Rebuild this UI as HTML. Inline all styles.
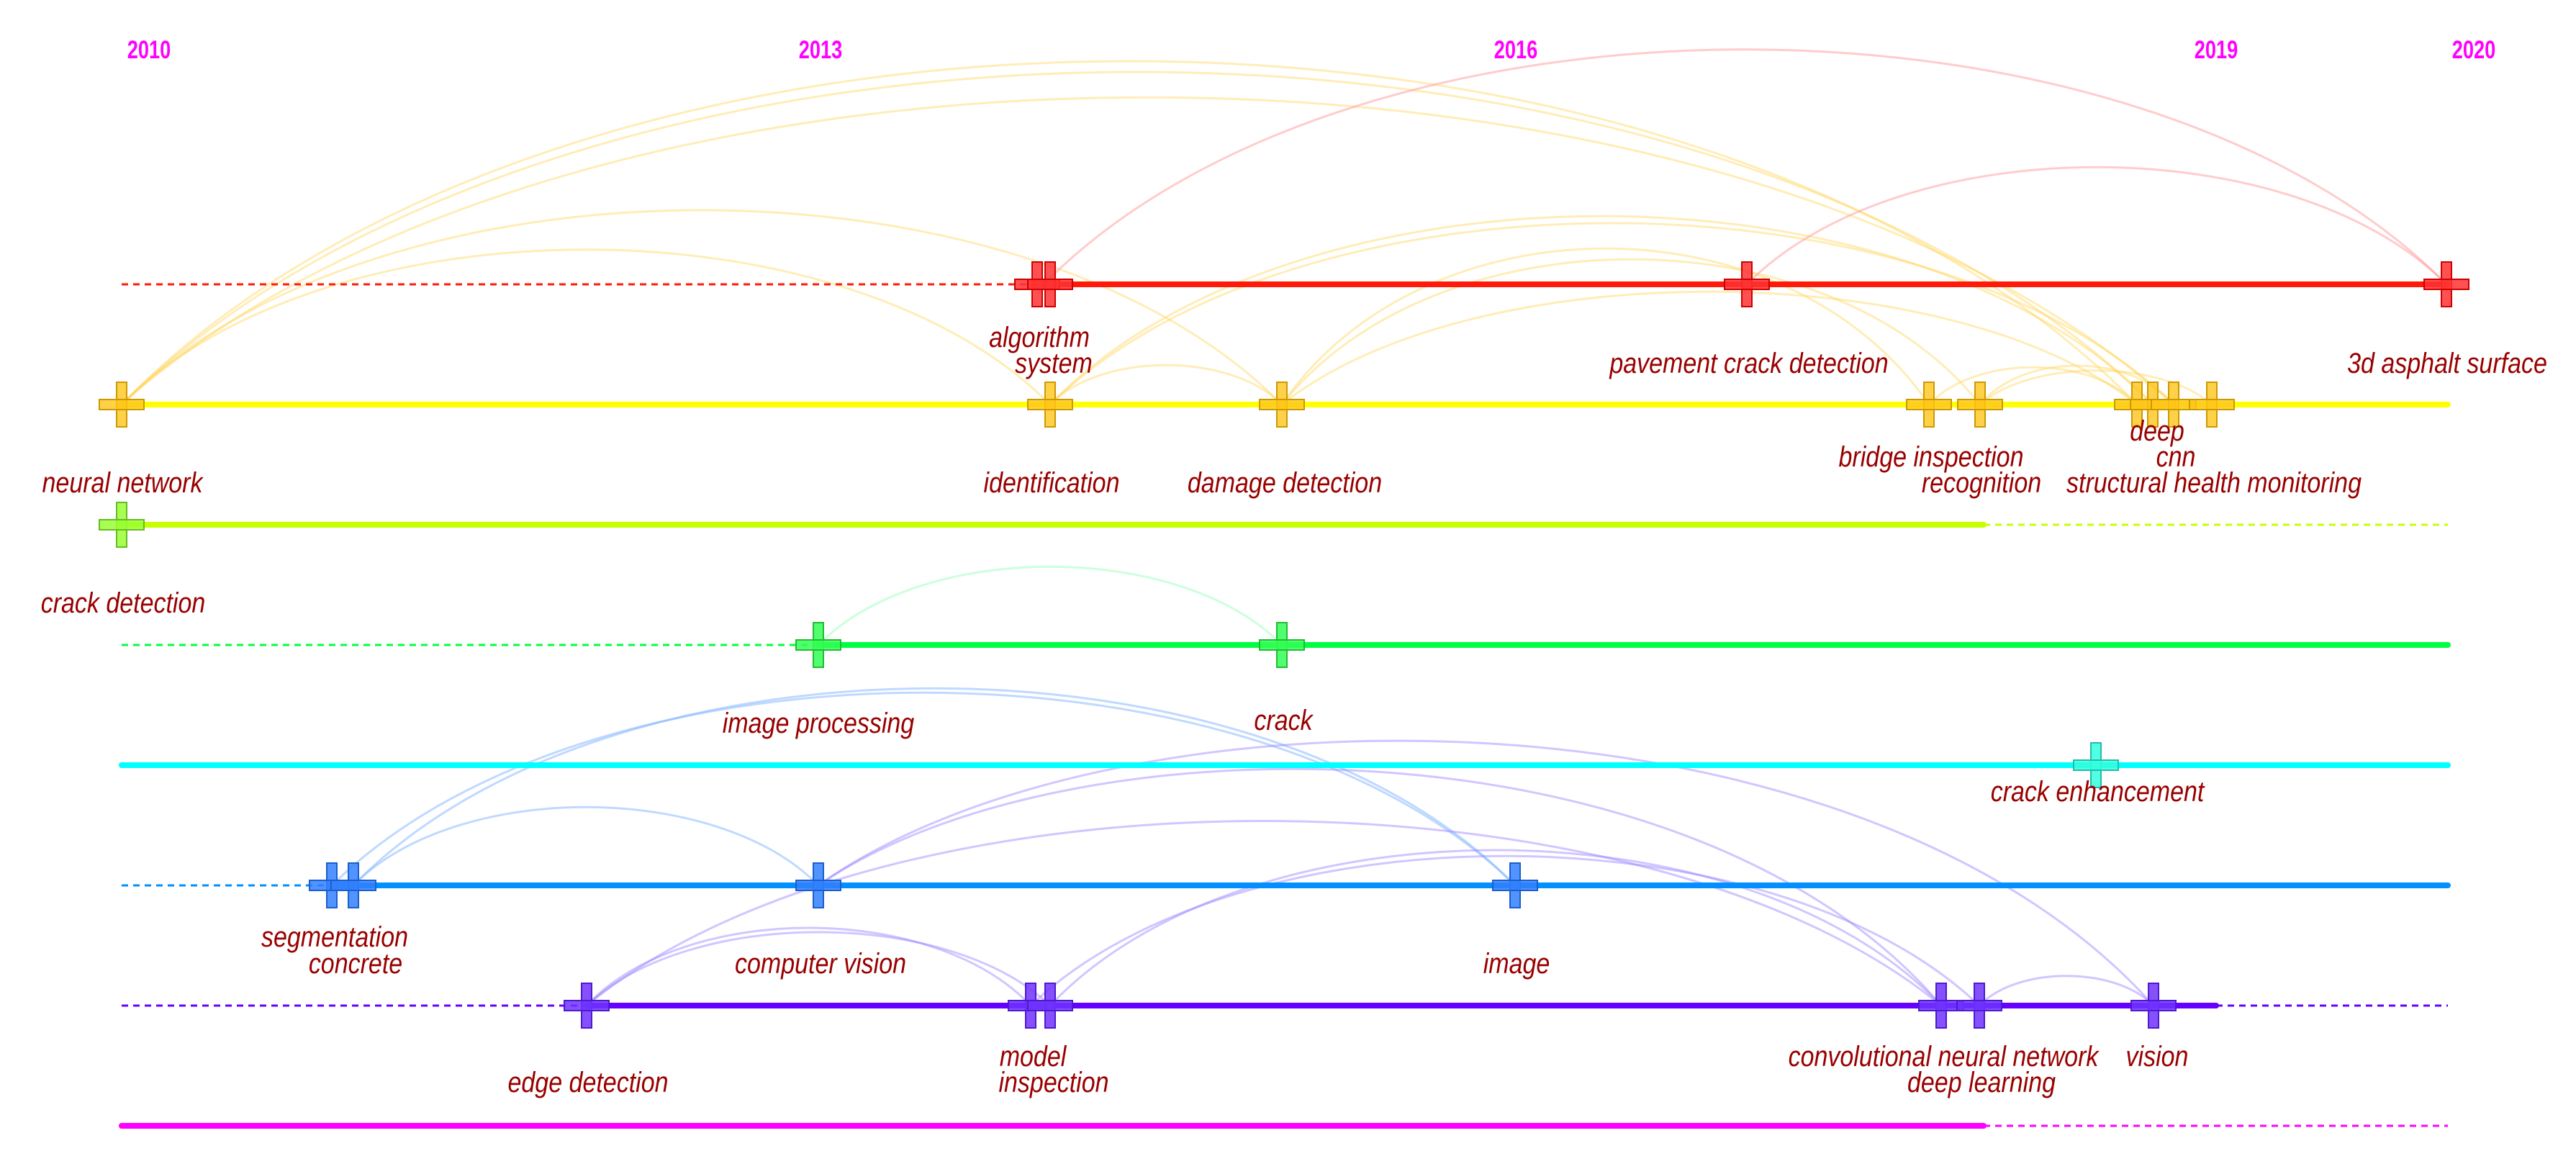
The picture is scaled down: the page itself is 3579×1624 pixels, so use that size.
<!DOCTYPE html>
<html><head><meta charset="utf-8"><style>
html,body{margin:0;padding:0;background:#fff}
svg{display:block}
.y{font:bold 32px "Liberation Sans",sans-serif;fill:#ff00ff;text-anchor:middle}
.l{font:italic 40px "Liberation Sans",sans-serif;fill:#990000;text-anchor:middle}
</style></head><body>
<svg width="3579" height="1624" viewBox="0 0 3579 1624" xmlns="http://www.w3.org/2000/svg">
<defs>
<g id="c"><rect x="-7" y="-31" width="14" height="62"/><rect x="-31" y="-7" width="62" height="14"/></g>
</defs>
<g transform="translate(207,81) scale(0.85,1.1)"><text class="y">2010</text></g>
<g transform="translate(1140,81) scale(0.85,1.1)"><text class="y">2013</text></g>
<g transform="translate(2106,81) scale(0.85,1.1)"><text class="y">2016</text></g>
<g transform="translate(3079,81) scale(0.85,1.1)"><text class="y">2019</text></g>
<g transform="translate(3437,81) scale(0.85,1.1)"><text class="y">2020</text></g>

<!-- arcs -->
<g fill="none" stroke-width="3">
<g stroke="#ffd24d" stroke-opacity="0.4">
<path d="M169 562 C785 -74 2353 -74 2969 562"/>
<path d="M169 562 C790 -54 2370 -54 2991 562"/>
<path d="M169 562 C796 -7 2393 -7 3020 562"/>
<path d="M169 562 C524 202 1426 202 1781 562"/>
<path d="M169 562 C453 275 1175 275 1459 562"/>
<path d="M1459 562 C1530 489 1710 489 1781 562"/>
<path d="M1459 562 C1796 213 2654 213 2991 562"/>
<path d="M1459 562 C1802 226 2677 226 3020 562"/>
<path d="M1781 562 C1979 273 2482 273 2680 562"/>
<path d="M1781 562 C1994 293 2538 293 2751 562"/>
<path d="M1781 562 C2042 353 2708 353 2969 562"/>
<path d="M2680 562 C2744 493 2905 493 2969 562"/>
<path d="M2751 562 C2810 490 2961 490 3020 562"/>
<path d="M2751 562 C2822 499 3002 499 3073 562"/>
</g>
<g stroke="#ff9999" stroke-opacity="0.5">
<path d="M1450 395 C1879 -40 2970 -40 3399 395"/>
<path d="M2427 395 C2641 178 3185 178 3399 395"/>
</g>
<path stroke="#99ffbb" stroke-opacity="0.5" d="M1137 896 C1279 751 1639 751 1781 896"/>
<g stroke="#80b3ff" stroke-opacity="0.5">
<path d="M491 1230 C846 865 1750 865 2105 1230"/>
<path d="M461 1230 C823 873 1743 873 2105 1230"/>
<path d="M491 1230 C633 1085 995 1085 1137 1230"/>
</g>
<g stroke="#9980ff" stroke-opacity="0.45">
<path d="M1137 1230 C1545 939 2584 939 2992 1397"/>
<path d="M1137 1230 C1480 992 2354 992 2697 1397"/>
<path d="M815 1397 C1229 1055 2283 1055 2697 1397"/>
<path d="M1459 1397 C1731 1109 2425 1109 2697 1397"/>
<path d="M1432 1397 C1722 1120 2460 1120 2750 1397"/>
<path d="M815 1397 C951 1253 1296 1253 1432 1397"/>
<path d="M815 1397 C957 1261 1317 1261 1459 1397"/>
<path d="M2750 1397 C2803 1342 2939 1342 2992 1397"/>
</g>
</g>

<!-- timelines -->
<g stroke-width="8" stroke-linecap="round">
<line x1="1450" y1="395" x2="3399" y2="395" stroke="#ff1a0a"/>
<line x1="169" y1="562" x2="3401" y2="562" stroke="#ffff00"/>
<line x1="169" y1="729" x2="2756" y2="729" stroke="#c8ff00"/>
<line x1="1137" y1="896" x2="3401" y2="896" stroke="#00ff40"/>
<line x1="169" y1="1063" x2="3401" y2="1063" stroke="#00ffff"/>
<line x1="461" y1="1230" x2="3401" y2="1230" stroke="#0090ff"/>
<line x1="815" y1="1397" x2="3079" y2="1397" stroke="#6600ff"/>
<line x1="169" y1="1564" x2="2756" y2="1564" stroke="#ff00ff"/>
</g>
<g stroke-width="3" stroke-dasharray="9 7">
<line x1="169" y1="395" x2="1450" y2="395" stroke="#ff1a0a"/>
<line x1="2756" y1="729" x2="3401" y2="729" stroke="#c8ff00"/>
<line x1="169" y1="896" x2="1137" y2="896" stroke="#00ff40"/>
<line x1="169" y1="1230" x2="461" y2="1230" stroke="#0090ff"/>
<line x1="169" y1="1397" x2="815" y2="1397" stroke="#6600ff"/>
<line x1="3079" y1="1397" x2="3401" y2="1397" stroke="#6600ff"/>
<line x1="2756" y1="1564" x2="3401" y2="1564" stroke="#ff00ff"/>
</g>

<!-- nodes -->
<g fill="#ff3333" fill-opacity="0.85" stroke="#cc0000" stroke-width="2">
<use href="#c" x="1441" y="395"/><use href="#c" x="1459" y="395"/>
<use href="#c" x="2427" y="395"/><use href="#c" x="3399" y="395"/>
</g>
<g fill="#ffc61a" fill-opacity="0.8" stroke="#cc9900" stroke-width="2">
<use href="#c" x="169" y="562"/><use href="#c" x="1459" y="562"/><use href="#c" x="1781" y="562"/>
<use href="#c" x="2680" y="562"/><use href="#c" x="2751" y="562"/>
<use href="#c" x="2969" y="562"/><use href="#c" x="2991" y="562"/><use href="#c" x="3020" y="562"/><use href="#c" x="3073" y="562"/>
</g>
<g fill="#99ff33" fill-opacity="0.85" stroke="#66bb22" stroke-width="2"><use href="#c" x="169" y="729"/></g>
<g fill="#33ff55" fill-opacity="0.85" stroke="#22bb33" stroke-width="2">
<use href="#c" x="1137" y="896"/><use href="#c" x="1781" y="896"/></g>
<g fill="#33ffdd" fill-opacity="0.85" stroke="#22bbaa" stroke-width="2"><use href="#c" x="2912" y="1063"/></g>
<g fill="#3380ff" fill-opacity="0.85" stroke="#1a5fcc" stroke-width="2">
<use href="#c" x="461" y="1230"/><use href="#c" x="491" y="1230"/>
<use href="#c" x="1137" y="1230"/><use href="#c" x="2105" y="1230"/></g>
<g fill="#7033ff" fill-opacity="0.85" stroke="#4d1acc" stroke-width="2">
<use href="#c" x="815" y="1397"/><use href="#c" x="1432" y="1397"/><use href="#c" x="1459" y="1397"/>
<use href="#c" x="2697" y="1397"/><use href="#c" x="2750" y="1397"/><use href="#c" x="2992" y="1397"/></g>

<!-- labels -->
<g transform="translate(1444,482) scale(0.85,1)"><text class="l">algorithm</text></g>
<g transform="translate(1464,518) scale(0.85,1)"><text class="l">system</text></g>
<g transform="translate(2430,518) scale(0.85,1)"><text class="l">pavement crack detection</text></g>
<g transform="translate(3400,518) scale(0.85,1)"><text class="l">3d asphalt surface</text></g>
<g transform="translate(170,684) scale(0.85,1)"><text class="l">neural network</text></g>
<g transform="translate(1461,684) scale(0.85,1)"><text class="l">identification</text></g>
<g transform="translate(1785,684) scale(0.85,1)"><text class="l">damage detection</text></g>
<g transform="translate(2683,648) scale(0.85,1)"><text class="l">bridge inspection</text></g>
<g transform="translate(2753,684) scale(0.85,1)"><text class="l">recognition</text></g>
<g transform="translate(3076,684) scale(0.85,1)"><text class="l">structural health monitoring</text></g>
<g transform="translate(2997,612) scale(0.85,1)"><text class="l">deep</text></g>
<g transform="translate(3023,648) scale(0.85,1)"><text class="l">cnn</text></g>
<g transform="translate(171,851) scale(0.85,1)"><text class="l">crack detection</text></g>
<g transform="translate(1137,1018) scale(0.85,1)"><text class="l">image processing</text></g>
<g transform="translate(1783,1014) scale(0.85,1)"><text class="l">crack</text></g>
<g transform="translate(2914,1113) scale(0.85,1)"><text class="l">crack enhancement</text></g>
<g transform="translate(465,1315) scale(0.85,1)"><text class="l">segmentation</text></g>
<g transform="translate(494,1352) scale(0.85,1)"><text class="l">concrete</text></g>
<g transform="translate(1140,1352) scale(0.85,1)"><text class="l">computer vision</text></g>
<g transform="translate(2107,1352) scale(0.85,1)"><text class="l">image</text></g>
<g transform="translate(817,1517) scale(0.85,1)"><text class="l">edge detection</text></g>
<g transform="translate(1435,1481) scale(0.85,1)"><text class="l">model</text></g>
<g transform="translate(1464,1517) scale(0.85,1)"><text class="l">inspection</text></g>
<g transform="translate(2700,1481) scale(0.85,1)"><text class="l">convolutional neural network</text></g>
<g transform="translate(2997,1481) scale(0.85,1)"><text class="l">vision</text></g>
<g transform="translate(2753,1517) scale(0.85,1)"><text class="l">deep learning</text></g>
</svg>
</body></html>
